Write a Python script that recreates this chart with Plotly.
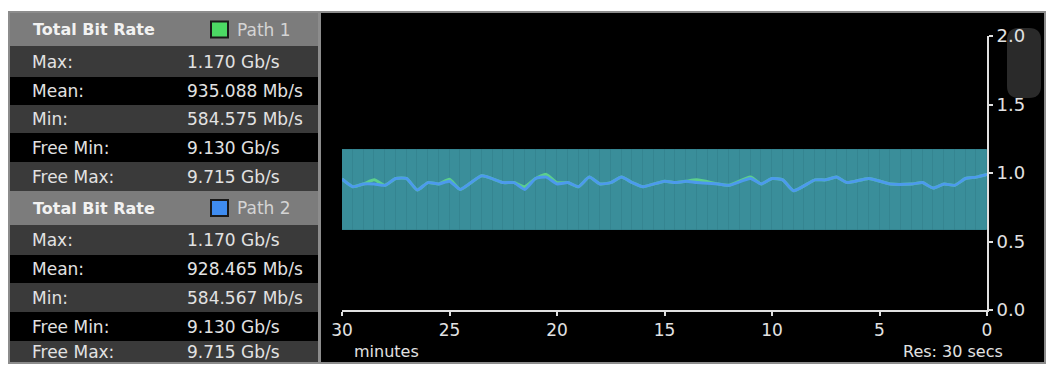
import plotly.graph_objects as go

# ---------------- data ----------------
stat_labels = ["Max:", "Mean:", "Min:", "Free Min:", "Free Max:"]
path1_stats = ["1.170 Gb/s", "935.088 Mb/s", "584.575 Mb/s", "9.130 Gb/s", "9.715 Gb/s"]
path2_stats = ["1.170 Gb/s", "928.465 Mb/s", "584.567 Mb/s", "9.130 Gb/s", "9.715 Gb/s"]
path_names = ["Path 1", "Path 2"]
path_colors = ["#4cd964", "#3f8cf0"]

# 30-second intervals (minutes ago, interval centres) and min/max envelope (Gb/s)
interval_centres = [29.75, 29.25, 28.75, 28.25, 27.75, 27.25, 26.75, 26.25, 25.75, 25.25,
                    24.75, 24.25, 23.75, 23.25, 22.75, 22.25, 21.75, 21.25, 20.75, 20.25,
                    19.75, 19.25, 18.75, 18.25, 17.75, 17.25, 16.75, 16.25, 15.75, 15.25,
                    14.75, 14.25, 13.75, 13.25, 12.75, 12.25, 11.75, 11.25, 10.75, 10.25,
                    9.75, 9.25, 8.75, 8.25, 7.75, 7.25, 6.75, 6.25, 5.75, 5.25,
                    4.75, 4.25, 3.75, 3.25, 2.75, 2.25, 1.75, 1.25, 0.75, 0.25]
band_max = 1.170
band_min = 0.585

minutes_ago = [30, 29.5, 29, 28.5, 28, 27.5, 27, 26.5, 26, 25.5, 25, 24.5, 23.5, 22.5, 22,
               21.5, 21, 20.5, 20, 19.5, 19, 18.5, 18, 17.5, 17, 16.5, 16, 15, 14.5, 14,
               13.5, 12.5, 12, 11, 10.5, 10, 9.5, 9, 8, 7.5, 7, 6.5, 5.5, 4.5, 3.5, 3,
               2.5, 2, 1.5, 1, 0.5, 0]
path1_rate = [0.956, 0.90, 0.92, 0.95, 0.91, 0.96, 0.96, 0.876, 0.93, 0.92, 0.955, 0.88, 0.98,
              0.93, 0.93, 0.90, 0.96, 0.99, 0.93, 0.93, 0.90, 0.97, 0.92, 0.93, 0.97, 0.93,
              0.90, 0.94, 0.93, 0.94, 0.95, 0.92, 0.91, 0.97, 0.92, 0.96, 0.95, 0.87, 0.95,
              0.95, 0.97, 0.93, 0.96, 0.92, 0.92, 0.93, 0.89, 0.92, 0.91, 0.96, 0.97, 0.99]
path2_rate = [0.956, 0.90, 0.92, 0.92, 0.91, 0.96, 0.96, 0.876, 0.93, 0.92, 0.94, 0.88, 0.98,
              0.93, 0.93, 0.88, 0.96, 0.97, 0.92, 0.93, 0.90, 0.97, 0.92, 0.93, 0.97, 0.93,
              0.90, 0.94, 0.93, 0.94, 0.93, 0.92, 0.91, 0.96, 0.92, 0.96, 0.95, 0.87, 0.95,
              0.95, 0.97, 0.93, 0.96, 0.92, 0.92, 0.93, 0.89, 0.92, 0.91, 0.96, 0.97, 0.99]

x_ticks = [30, 25, 20, 15, 10, 5, 0]
y_ticks = [0.0, 0.5, 1.0, 1.5, 2.0]

# ---------------- geometry helpers (pixel -> paper) ----------------
W, H = 1052, 369
PL, PR, PT, PB = 342, 987, 36, 310


def px(x):
    return (x - PL) / (PR - PL)


def py(y):
    return (PB - y) / (PB - PT)


FONT = "DejaVu Sans"
TXT = "#e2e2e2"

fig = go.Figure()

fig.add_trace(go.Bar(
    x=interval_centres,
    y=[band_max - band_min] * len(interval_centres),
    base=[band_min] * len(interval_centres),
    width=0.5,
    marker=dict(color="#3a8e9a", line=dict(color="#358591", width=1)),
    hoverinfo="skip", showlegend=False,
))
fig.add_trace(go.Scatter(x=minutes_ago, y=path1_rate, mode="lines",
                         line=dict(color="#5ccf8c", width=3, shape="spline", smoothing=0.5),
                         showlegend=False))
fig.add_trace(go.Scatter(x=minutes_ago, y=path2_rate, mode="lines",
                         line=dict(color="#4c9aec", width=3, shape="spline", smoothing=0.5),
                         showlegend=False))

shapes = []
annotations = []

# chart panel background / frame
shapes.append(dict(type="rect", xref="paper", yref="paper", layer="below",
                   x0=px(320), x1=px(1045), y0=py(363), y1=py(12),
                   fillcolor="black", line=dict(color="#8c8c8c", width=2)))
# scroll indicator (rounded)
sx0, sx1, sy0, sy1 = 1007, 1041, 28, 98
r = 12


def P(x, y):
    return "%.5f,%.5f" % (px(x), py(y))


scroll_path = ("M " + P(sx0 + r, sy0) + " L " + P(sx1 - r, sy0) +
               " Q " + P(sx1, sy0) + " " + P(sx1, sy0 + r) +
               " L " + P(sx1, sy1 - r) + " Q " + P(sx1, sy1) + " " + P(sx1 - r, sy1) +
               " L " + P(sx0 + r, sy1) + " Q " + P(sx0, sy1) + " " + P(sx0, sy1 - r) +
               " L " + P(sx0, sy0 + r) + " Q " + P(sx0, sy0) + " " + P(sx0 + r, sy0) + " Z")
shapes.append(dict(type="path", xref="paper", yref="paper", layer="below",
                   path=scroll_path, fillcolor="#2a2a2a", line=dict(width=0)))

# left table
row_bounds = [(13, 46), (46, 77), (77, 105), (105, 133), (133, 162), (162, 191),
              (191, 225), (225, 255), (255, 283), (283, 312), (312, 341), (341, 363)]
stats_sets = [path1_stats, path2_stats]
for block in range(2):
    hdr = row_bounds[block * 6]
    shapes.append(dict(type="rect", xref="paper", yref="paper",
                       x0=px(9), x1=px(319), y0=py(hdr[1]), y1=py(hdr[0]),
                       fillcolor="#7c7c7c", line=dict(width=0)))
    yc = (hdr[0] + hdr[1]) / 2
    annotations.append(dict(xref="paper", yref="paper", x=px(31), y=py(yc),
                            xanchor="left", yanchor="middle", showarrow=False,
                            text="<b>Total Bit Rate</b>",
                            font=dict(family=FONT, size=16, color="#f2f2f2")))
    shapes.append(dict(type="rect", xref="paper", yref="paper",
                       x0=px(211), x1=px(228), y0=py(yc + 8), y1=py(yc - 8),
                       fillcolor=path_colors[block], line=dict(color="#1a1a1a", width=2)))
    annotations.append(dict(xref="paper", yref="paper", x=px(235), y=py(yc),
                            xanchor="left", yanchor="middle", showarrow=False,
                            text=path_names[block],
                            font=dict(family=FONT, size=17, color="#d4d4d4")))
    for i in range(5):
        rb = row_bounds[block * 6 + 1 + i]
        color = "#3a3a3a" if i % 2 == 0 else "#000000"
        shapes.append(dict(type="rect", xref="paper", yref="paper",
                           x0=px(9), x1=px(319), y0=py(rb[1]), y1=py(rb[0]),
                           fillcolor=color, line=dict(width=0)))
        yc = (rb[0] + rb[1]) / 2
        annotations.append(dict(xref="paper", yref="paper", x=px(30), y=py(yc),
                                xanchor="left", yanchor="middle", showarrow=False,
                                text=stat_labels[i],
                                font=dict(family=FONT, size=17, color=TXT)))
        annotations.append(dict(xref="paper", yref="paper", x=px(185), y=py(yc),
                                xanchor="left", yanchor="middle", showarrow=False,
                                text=stats_sets[block][i],
                                font=dict(family=FONT, size=17, color=TXT)))

# table outer frame
shapes.append(dict(type="rect", xref="paper", yref="paper",
                   x0=px(9), x1=px(319), y0=py(363), y1=py(12),
                   fillcolor="rgba(0,0,0,0)", line=dict(color="#8c8c8c", width=2)))

annotations.append(dict(xref="paper", yref="paper", x=px(352), y=py(351),
                        xanchor="left", yanchor="middle", showarrow=False,
                        text="minutes", font=dict(family=FONT, size=16, color=TXT)))
annotations.append(dict(xref="paper", yref="paper", x=px(1005), y=py(351),
                        xanchor="right", yanchor="middle", showarrow=False,
                        text="Res: 30 secs", font=dict(family=FONT, size=16, color=TXT)))

fig.update_layout(
    width=W, height=H,
    margin=dict(l=PL, r=W - PR, t=PT, b=H - PB, pad=0),
    paper_bgcolor="white", plot_bgcolor="black",
    bargap=0, showlegend=False,
    shapes=shapes, annotations=annotations,
    xaxis=dict(range=[30, 0], tickvals=x_ticks, ticktext=[str(v) for v in x_ticks],
               showgrid=False, zeroline=False, showline=True, linecolor="#e0e0e0",
               linewidth=2, ticks="outside", ticklen=4, tickwidth=2, tickcolor="#e0e0e0",
               tickfont=dict(family=FONT, size=17, color=TXT), fixedrange=True),
    yaxis=dict(range=[0, 2], side="right", tickvals=y_ticks,
               ticktext=["%.1f" % v for v in y_ticks],
               showgrid=False, zeroline=False, showline=True, linecolor="#e0e0e0",
               linewidth=2, ticks="outside", ticklen=4, tickwidth=2, tickcolor="#e0e0e0",
               tickfont=dict(family=FONT, size=18, color=TXT), fixedrange=True),
)

fig.write_html("out.html", config={"displayModeBar": False},
               post_script="document.body.style.margin='0';document.body.style.overflow='hidden';")
